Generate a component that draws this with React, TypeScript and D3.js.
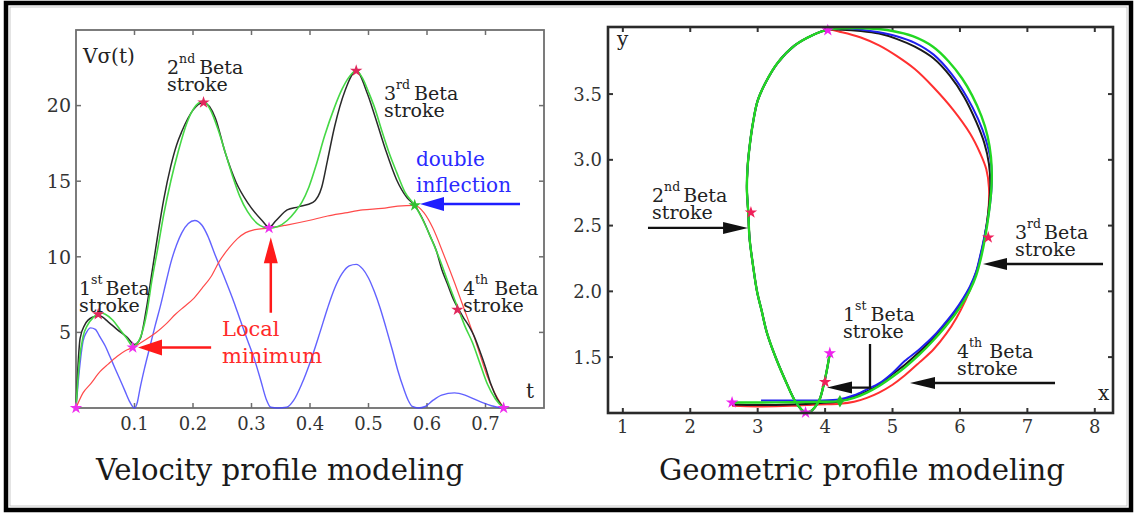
import React from 'react';
import * as d3 from 'd3';

type P = [number, number];

// ---------------- Velocity profile (left panel) ----------------
const velXTicks = [0.1, 0.2, 0.3, 0.4, 0.5, 0.6, 0.7];
const velYTicks = [5, 10, 15, 20];

const velBlack: P[] = [
  [0, 0], [0.003, 2.5], [0.007, 4.6], [0.015, 5.5], [0.028, 6.0], [0.04, 6.1], [0.055, 5.7],
  [0.07, 5.2], [0.087, 4.7], [0.1, 4.2], [0.11, 4.6], [0.12, 6.5], [0.13, 9.0], [0.14, 11.5],
  [0.15, 13.8], [0.162, 16.0], [0.172, 17.4], [0.181, 18.3], [0.2, 19.7], [0.218, 20.2],
  [0.238, 19.2], [0.255, 16.9], [0.274, 14.9], [0.293, 13.6], [0.318, 12.4], [0.33, 11.95],
  [0.342, 12.4], [0.361, 13.1], [0.38, 13.3], [0.405, 13.6], [0.42, 14.6], [0.43, 16.4],
  [0.442, 18.6], [0.46, 21.0], [0.479, 22.3], [0.498, 20.8], [0.511, 19.3], [0.529, 17.1],
  [0.548, 15.1], [0.566, 13.9], [0.579, 13.4], [0.595, 12.3], [0.605, 11.4], [0.616, 10.4],
  [0.625, 9.2], [0.635, 8.2], [0.645, 7.2], [0.653, 6.6], [0.662, 6.0], [0.672, 5.4],
  [0.68, 4.8], [0.69, 3.8], [0.7, 2.7], [0.709, 1.6], [0.72, 0.6], [0.731, 0]
];

const velGreen: P[] = [
  [0, 0], [0.006, 3.2], [0.012, 4.7], [0.02, 5.5], [0.03, 6.0], [0.04, 6.3], [0.05, 6.2],
  [0.063, 5.8], [0.075, 5.2], [0.087, 4.6], [0.097, 4.1], [0.105, 4.3], [0.113, 5.0],
  [0.121, 6.3], [0.13, 8.5], [0.14, 10.6], [0.15, 12.8], [0.162, 15.0], [0.175, 17.0],
  [0.19, 18.9], [0.205, 20.0], [0.218, 20.3], [0.23, 19.7], [0.243, 18.4], [0.256, 16.8],
  [0.268, 15.3], [0.28, 14.0], [0.293, 13.0], [0.31, 12.2], [0.33, 11.9], [0.345, 12.0],
  [0.361, 12.4], [0.375, 13.0], [0.386, 13.6], [0.398, 14.6], [0.41, 16.0], [0.425, 18.0],
  [0.442, 19.9], [0.455, 21.1], [0.467, 21.9], [0.479, 22.3], [0.49, 21.8], [0.5, 20.9],
  [0.511, 19.8], [0.523, 18.3], [0.535, 16.9], [0.548, 15.6], [0.562, 14.3], [0.579, 13.4],
  [0.592, 12.5], [0.605, 11.4], [0.622, 9.8], [0.638, 8.1], [0.653, 6.6], [0.665, 5.4],
  [0.678, 4.3], [0.69, 3.0], [0.703, 1.6], [0.717, 0.6], [0.731, 0]
];

const velRed: P[] = [
  [0, 0], [0.012, 1.0], [0.025, 1.6], [0.041, 2.4], [0.055, 2.9], [0.07, 3.4], [0.085, 3.8],
  [0.097, 4.0], [0.11, 4.3], [0.126, 4.7], [0.137, 5.0], [0.155, 5.6], [0.17, 6.2],
  [0.185, 6.7], [0.2, 7.2], [0.215, 7.9], [0.231, 8.7], [0.245, 9.7], [0.262, 10.6],
  [0.276, 11.2], [0.29, 11.6], [0.306, 11.8], [0.33, 11.9], [0.36, 12.1], [0.398, 12.4],
  [0.43, 12.7], [0.46, 12.9], [0.49, 13.1], [0.523, 13.2], [0.55, 13.35], [0.579, 13.4],
  [0.595, 12.9], [0.61, 11.9], [0.628, 10.2], [0.647, 8.3], [0.663, 6.6], [0.678, 5.0],
  [0.69, 3.6], [0.703, 2.1], [0.717, 0.9], [0.731, 0]
];

const velBlue: P[] = [
  [0, 0], [0.004, 1.8], [0.008, 3.3], [0.012, 4.4], [0.018, 5.0], [0.025, 5.3], [0.033, 5.2],
  [0.041, 4.7], [0.05, 4.1], [0.058, 3.4], [0.067, 2.6], [0.075, 1.9], [0.084, 1.1],
  [0.092, 0.4], [0.1, 0], [0.105, 0.4], [0.109, 1.2], [0.117, 2.6], [0.126, 4.0],
  [0.135, 5.4], [0.144, 6.7], [0.155, 8.5], [0.162, 9.6], [0.172, 10.8], [0.181, 11.6],
  [0.192, 12.2], [0.203, 12.4], [0.215, 12.1], [0.225, 11.4], [0.237, 10.2], [0.255, 8.5],
  [0.27, 7.0], [0.28, 5.9], [0.293, 4.5], [0.306, 3.1], [0.316, 1.8], [0.325, 0.6],
  [0.333, 0.05], [0.345, 0], [0.36, 0.05], [0.372, 0.5], [0.386, 1.6], [0.4, 3.0],
  [0.417, 5.0], [0.43, 6.6], [0.442, 7.9], [0.455, 8.9], [0.467, 9.4], [0.479, 9.5],
  [0.49, 9.2], [0.5, 8.6], [0.51, 7.7], [0.52, 6.6], [0.53, 5.3], [0.541, 3.8], [0.55, 2.5],
  [0.56, 1.3], [0.568, 0.5], [0.575, 0.1], [0.585, 0], [0.597, 0.1], [0.61, 0.5],
  [0.625, 0.85], [0.647, 1.0], [0.665, 0.85], [0.68, 0.6], [0.695, 0.35], [0.71, 0.15],
  [0.731, 0]
];

const velPinkMarks: P[] = [[0, 0], [0.097, 4.0], [0.33, 11.9], [0.731, 0]];
const velRedMarks: P[] = [[0.038, 6.2], [0.218, 20.2], [0.479, 22.3], [0.652, 6.5]];
const velGreenMarks: P[] = [[0.579, 13.4]];

// ---------------- Geometric profile (right panel) ----------------
const geoXTicks = [1, 2, 3, 4, 5, 6, 7, 8];
const geoYTicks = [1.5, 2.0, 2.5, 3.0, 3.5];

const geoLoopLeft: P[] = [
  [4.04, 3.99], [3.8, 3.945], [3.55, 3.87], [3.3, 3.74], [3.12, 3.59], [3.0, 3.45],
  [2.93, 3.28], [2.88, 3.1], [2.85, 2.94], [2.84, 2.78], [2.86, 2.6], [2.88, 2.4],
  [2.93, 2.2], [2.99, 2.0], [3.06, 1.85], [3.14, 1.68], [3.28, 1.48], [3.43, 1.3],
  [3.55, 1.17], [3.65, 1.1], [3.71, 1.078], [3.78, 1.085], [3.85, 1.12], [3.92, 1.18],
  [3.97, 1.27], [4.01, 1.36], [4.04, 1.44], [4.07, 1.53]
];

const geoGreen: P[] = [
  [2.62, 1.155], [3.0, 1.155], [3.5, 1.157], [3.9, 1.16], [4.22, 1.165], [4.43, 1.19],
  [4.62, 1.23], [4.8, 1.28], [5.0, 1.35], [5.18, 1.42], [5.4, 1.52], [5.61, 1.63],
  [5.78, 1.73], [5.92, 1.82], [6.05, 1.92], [6.15, 2.01], [6.24, 2.12], [6.31, 2.25],
  [6.37, 2.4], [6.43, 2.6], [6.47, 2.82], [6.46, 3.02], [6.41, 3.18], [6.32, 3.33],
  [6.18, 3.49], [6.03, 3.62], [5.83, 3.75], [5.6, 3.86], [5.3, 3.94], [5.0, 3.98],
  [4.6, 4.0], [4.3, 4.0]
];

const geoRed: P[] = [
  [2.62, 1.13], [3.0, 1.125], [3.5, 1.13], [3.9, 1.14], [4.22, 1.145], [4.43, 1.16],
  [4.62, 1.19], [4.8, 1.23], [5.0, 1.29], [5.18, 1.36], [5.4, 1.46], [5.61, 1.56],
  [5.8, 1.68], [5.95, 1.8], [6.08, 1.93], [6.2, 2.08], [6.3, 2.25], [6.37, 2.42],
  [6.42, 2.6], [6.43, 2.79], [6.39, 2.93], [6.3, 3.05], [6.15, 3.2], [5.9, 3.38],
  [5.61, 3.55], [5.33, 3.69], [5.06, 3.79], [4.8, 3.87], [4.53, 3.93], [4.25, 3.97]
];

const geoBlack: P[] = [
  [2.62, 1.14], [3.0, 1.135], [3.5, 1.14], [3.9, 1.15], [4.22, 1.165], [4.43, 1.2],
  [4.62, 1.24], [4.8, 1.29], [5.0, 1.37], [5.18, 1.44], [5.4, 1.54], [5.61, 1.645],
  [5.78, 1.745], [5.92, 1.835], [6.05, 1.94], [6.15, 2.03], [6.24, 2.14], [6.3, 2.26],
  [6.36, 2.4], [6.42, 2.6], [6.45, 2.8], [6.43, 2.97], [6.36, 3.13], [6.24, 3.29],
  [6.06, 3.48], [5.85, 3.64], [5.61, 3.77], [5.33, 3.86], [5.06, 3.92], [4.8, 3.96],
  [4.53, 3.98], [4.25, 3.99]
];

const geoBlue: P[] = [
  [3.05, 1.17], [3.5, 1.17], [3.9, 1.17], [4.22, 1.18], [4.43, 1.21], [4.62, 1.255],
  [4.8, 1.3], [5.0, 1.38], [5.18, 1.47], [5.4, 1.56], [5.61, 1.66], [5.78, 1.76],
  [5.92, 1.85], [6.05, 1.95], [6.15, 2.04], [6.24, 2.15], [6.3, 2.27], [6.36, 2.41],
  [6.43, 2.6], [6.47, 2.8], [6.46, 2.98], [6.38, 3.16], [6.27, 3.31], [6.1, 3.48],
  [5.88, 3.65], [5.61, 3.8], [5.33, 3.89], [5.06, 3.94], [4.8, 3.97], [4.53, 3.99],
  [4.25, 4.0]
];

const geoPinkMarks: P[] = [[2.62, 1.155], [4.04, 3.985], [3.71, 1.078], [4.07, 1.53]];
const geoRedMarks: P[] = [[2.9, 2.6], [6.42, 2.41], [4.0, 1.31]];
const geoGreenMarks: P[] = [[4.22, 1.165]];

// annotation arrows, in data coordinates
const velArrowBlue: P[] = [[0.759, 13.5], [0.588, 13.5]];
const velArrowRedUp: P[] = [[0.333, 6.3], [0.333, 11.3]];
const velArrowRedLeft: P[] = [[0.231, 4.0], [0.106, 4.0]];
const geoArrow2: P[] = [[1.373, 2.482], [2.857, 2.482]];
const geoArrow3: P[] = [[8.122, 2.208], [6.342, 2.208]];
const geoArrow1: P[] = [[4.666, 1.6], [4.666, 1.268], [4.028, 1.268]];
const geoArrow4: P[] = [[7.41, 1.303], [5.259, 1.303]];

const FONT = 'DejaVu Serif';

function Arrow({ pts, color, head = 24, half = 7, w = 2.5 }: { pts: P[]; color: string; head?: number; half?: number; w?: number }) {
  const n = pts.length;
  const [tx, ty] = pts[n - 1];
  const [px, py] = pts[n - 2];
  const dx = tx - px, dy = ty - py;
  const L = Math.hypot(dx, dy);
  const ux = dx / L, uy = dy / L;
  const bx = tx - ux * head, by = ty - uy * head;
  const shaft: P[] = [...pts.slice(0, n - 1), [bx + ux * 2, by + uy * 2]];
  const poly: P[] = [[tx, ty], [bx - uy * half, by + ux * half], [bx + uy * half, by - ux * half]];
  return (
    <g>
      <polyline points={shaft.map(p => p.join(',')).join(' ')} fill="none" stroke={color} strokeWidth={w} />
      <polygon points={poly.map(p => p.join(',')).join(' ')} fill={color} />
    </g>
  );
}

function BetaLabel({ x, y, num, sup, gap = 4 }: { x: number; y: number; num: string; sup: string; gap?: number }) {
  return (
    <g fontFamily={FONT} fill="#222">
      <text x={x} y={y} fontSize={19}>
        {num}
        <tspan dy={-11} fontSize={12.5}>{sup}</tspan>
        <tspan dy={11} dx={gap} fontSize={19}>Beta</tspan>
      </text>
      <text x={x} y={y + 17} fontSize={19}>stroke</text>
    </g>
  );
}

export default function App() {
  const xL = d3.scaleLinear().domain([0, 0.8]).range([76, 544]);
  const yL = d3.scaleLinear().domain([0, 25]).range([408, 30]);
  const xR = d3.scaleLinear().domain([0.78, 8.27]).range([608, 1113]);
  const yR = d3.scaleLinear().domain([1.075, 4.01]).range([413, 27]);

  const lineL = d3.line<P>().x(d => xL(d[0])).y(d => yL(d[1])).curve(d3.curveMonotoneX);
  const lineR = d3.line<P>().x(d => xR(d[0])).y(d => yR(d[1])).curve(d3.curveCatmullRom.alpha(0.5));

  const star = d3.symbol().type(d3.symbolStar).size(48)() as string;
  const diamond = d3.symbol().type(d3.symbolDiamond).size(45)() as string;

  const toL = (p: P[]): P[] => p.map(d => [xL(d[0]), yL(d[1])]);
  const toR = (p: P[]): P[] => p.map(d => [xR(d[0]), yR(d[1])]);

  const tk = 5;
  const [l0, l1] = xL.range();
  const [lb, lt] = yL.range();
  const [r0, r1] = xR.range();
  const [rb, rt] = yR.range();

  const marks = (pts: P[], sx: (v: number) => number, sy: (v: number) => number, path: string, color: string, key: string) =>
    pts.map((d, i) => (
      <path key={key + i} d={path} transform={`translate(${sx(d[0])},${sy(d[1])})`} fill={color} />
    ));

  return (
    <svg width={1136} height={515} style={{ position: 'absolute', left: 0, top: 0, background: '#fff' }}>
      <rect x={0} y={0} width={1136} height={515} fill="#fff" />

      {/* ---------- left panel ---------- */}
      <g>
        <rect x={l0} y={lt} width={l1 - l0} height={lb - lt} fill="none" stroke="#6e6e6e" strokeWidth={1.8} />
        {velXTicks.map(t => (
          <g key={'vx' + t} stroke="#6e6e6e" strokeWidth={1.5}>
            <line x1={xL(t)} x2={xL(t)} y1={lb} y2={lb - tk} />
            <line x1={xL(t)} x2={xL(t)} y1={lt} y2={lt + tk} />
          </g>
        ))}
        {velYTicks.map(v => (
          <g key={'vy' + v} stroke="#6e6e6e" strokeWidth={1.5}>
            <line x1={l0} x2={l0 + tk} y1={yL(v)} y2={yL(v)} />
            <line x1={l1} x2={l1 - tk} y1={yL(v)} y2={yL(v)} />
          </g>
        ))}
        {velXTicks.map(t => (
          <text key={'vxl' + t} x={xL(t)} y={430} textAnchor="middle" fontFamily={FONT} fontSize={18} fill="#333">
            {t.toFixed(1)}
          </text>
        ))}
        {velYTicks.map(v => (
          <text key={'vyl' + v} x={71} y={yL(v)} dy="0.36em" textAnchor="end" fontFamily={FONT} fontSize={19} fill="#333">
            {v}
          </text>
        ))}

        <path d={lineL(velBlue) as string} fill="none" stroke="#4646ff" strokeWidth={1.4} strokeOpacity={0.85} />
        <path d={lineL(velRed) as string} fill="none" stroke="#ff4a4a" strokeWidth={1.2} />
        <path d={lineL(velBlack) as string} fill="none" stroke="#2a2a2a" strokeWidth={1.5} />
        <path d={lineL(velGreen) as string} fill="none" stroke="#45d845" strokeWidth={1.6} />

        {marks(velRedMarks, xL, yL, star, '#e0285c', 'vr')}
        {marks(velPinkMarks, xL, yL, star, '#ee30ee', 'vp')}
        {marks(velGreenMarks, xL, yL, star, '#30c030', 'vg')}

        <Arrow pts={toL(velArrowBlue)} color="#1e1eff" head={24} half={7} w={2.5} />
        <Arrow pts={toL(velArrowRedUp)} color="#ff1a1a" head={26} half={7} w={2.5} />
        <Arrow pts={toL(velArrowRedLeft)} color="#ff1a1a" head={24} half={8} w={2.5} />

        <text x={83} y={63} fontFamily={FONT} fontSize={20} fill="#222">Vσ(t)</text>
        <text x={526} y={398} fontFamily={FONT} fontSize={20} fill="#222">t</text>
        <BetaLabel x={167} y={74} num="2" sup="nd" gap={4} />
        <BetaLabel x={384} y={100} num="3" sup="rd" gap={4} />
        <BetaLabel x={79} y={295} num="1" sup="st" gap={3} />
        <BetaLabel x={463} y={295} num="4" sup="th" gap={6} />
        <text x={416} y={166} fontFamily={FONT} fontSize={20} fill="#2a2aff">double</text>
        <text x={416} y={192} fontFamily={FONT} fontSize={20} fill="#2a2aff">inflection</text>
        <text x={222} y={336} fontFamily={FONT} fontSize={21} fill="#ff2a2a">Local</text>
        <text x={222} y={363} fontFamily={FONT} fontSize={21} fill="#ff2a2a">minimum</text>

        <text x={280} y={480} textAnchor="middle" fontFamily={FONT} fontSize={29} fill="#1a1a1a"
          textLength={368} lengthAdjust="spacingAndGlyphs">Velocity profile modeling</text>
      </g>

      {/* ---------- right panel ---------- */}
      <g>
        {geoXTicks.map(t => (
          <g key={'gx' + t} stroke="#333" strokeWidth={2}>
            <line x1={xR(t)} x2={xR(t)} y1={rb} y2={rb - tk} />
            <line x1={xR(t)} x2={xR(t)} y1={rt} y2={rt + tk} />
          </g>
        ))}
        {geoYTicks.map(v => (
          <g key={'gy' + v} stroke="#333" strokeWidth={2}>
            <line x1={r0} x2={r0 + tk} y1={yR(v)} y2={yR(v)} />
            <line x1={r1} x2={r1 - tk} y1={yR(v)} y2={yR(v)} />
          </g>
        ))}
        {geoXTicks.map(t => (
          <text key={'gxl' + t} x={xR(t)} y={433} textAnchor="middle" fontFamily={FONT} fontSize={18} fill="#333">
            {t}
          </text>
        ))}
        {geoYTicks.map(v => (
          <text key={'gyl' + v} x={602} y={yR(v)} dy="0.36em" textAnchor="end" fontFamily={FONT} fontSize={18} fill="#333">
            {v.toFixed(1)}
          </text>
        ))}

        <path d={lineR([...geoRed, ...geoLoopLeft]) as string} fill="none" stroke="#ff3030" strokeWidth={2} />
        <path d={lineR([...geoBlack, ...geoLoopLeft]) as string} fill="none" stroke="#1a1a1a" strokeWidth={2} />
        <path d={lineR([...geoBlue, ...geoLoopLeft]) as string} fill="none" stroke="#2020ee" strokeWidth={2} />
        <path d={lineR([...geoGreen, ...geoLoopLeft]) as string} fill="none" stroke="#22d822" strokeWidth={2.4} />

        {marks(geoRedMarks, xR, yR, star, '#f0205a', 'gr')}
        {marks(geoPinkMarks, xR, yR, star, '#ee22ee', 'gp')}
        {marks(geoGreenMarks, xR, yR, diamond, '#22c022', 'gg')}

        <rect x={r0} y={rt} width={r1 - r0} height={rb - rt} fill="none" stroke="#2a2a2a" strokeWidth={2.6} />

        <Arrow pts={toR(geoArrow2)} color="#111" head={25} half={6} w={2.3} />
        <Arrow pts={toR(geoArrow3)} color="#111" head={24} half={6} w={2.3} />
        <Arrow pts={toR(geoArrow1)} color="#111" head={25} half={6} w={2.3} />
        <Arrow pts={toR(geoArrow4)} color="#111" head={25} half={6} w={2.3} />

        <text x={617} y={46} fontFamily={FONT} fontSize={20} fill="#222">y</text>
        <text x={1098} y={400} fontFamily={FONT} fontSize={20} fill="#222">x</text>
        <BetaLabel x={652} y={202} num="2" sup="nd" gap={3} />
        <BetaLabel x={1015} y={239} num="3" sup="rd" gap={3} />
        <BetaLabel x={843} y={321} num="1" sup="st" gap={4} />
        <BetaLabel x={957} y={358} num="4" sup="th" gap={7} />

        <text x={862} y={480} textAnchor="middle" fontFamily={FONT} fontSize={29} fill="#1a1a1a"
          textLength={406} lengthAdjust="spacingAndGlyphs">Geometric profile modeling</text>
      </g>

      {/* outer frame */}
      <rect x={6} y={3} width={1125} height={507} fill="none" stroke="#000" strokeWidth={4.5} />
      <rect x={10} y={7} width={1117} height={499} fill="none" stroke="#bbb" strokeWidth={0.8} />
    </svg>
  );
}
